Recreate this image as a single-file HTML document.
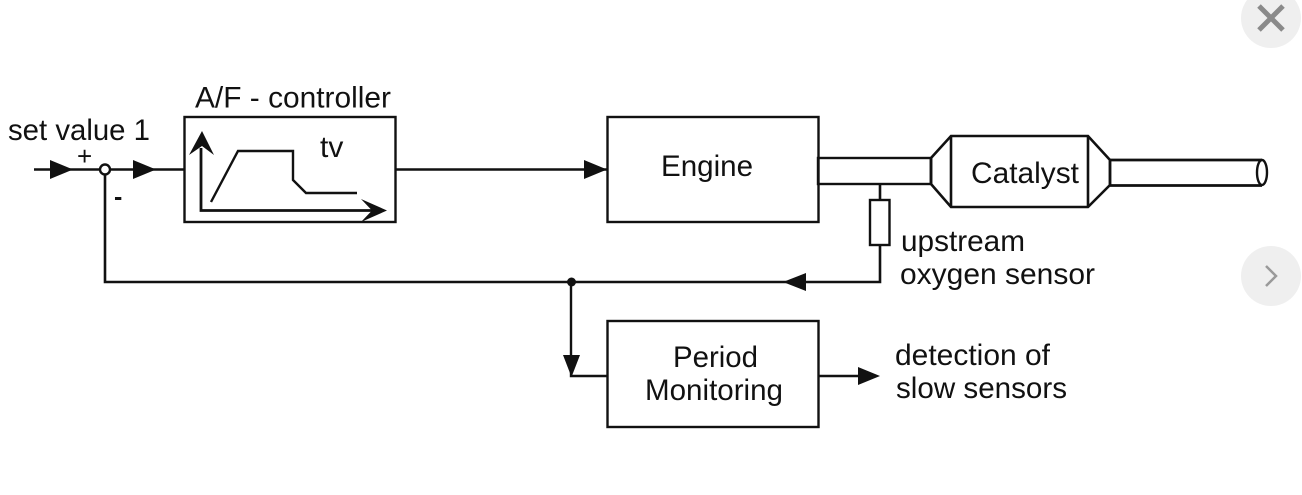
<!DOCTYPE html>
<html>
<head>
<meta charset="utf-8">
<style>
html,body{margin:0;padding:0;background:#fff;width:1302px;height:495px;overflow:hidden}
svg{display:block}
text{font-family:"Liberation Sans",sans-serif;font-size:29.5px;fill:#111}
</style>
</head>
<body>
<svg width="1302" height="495" viewBox="0 0 1302 495" xmlns="http://www.w3.org/2000/svg">
<rect width="1302" height="495" fill="#fff"/>
<circle cx="1271" cy="18" r="30" fill="#efefef"/>
<path d="M1259 6L1283 30M1283 6L1259 30" stroke="#8a8a8a" stroke-width="5" fill="none"/>
<circle cx="1271" cy="276" r="30" fill="#efefef"/>
<path d="M1266 266L1276 276L1266 286" stroke="#9a9a9a" stroke-width="2.5" fill="none"/>

<g fill="none" stroke="#111" stroke-width="2.4">
<rect x="184.5" y="117" width="211" height="105"/>
<rect x="607.5" y="117" width="211" height="105"/>
<rect x="607.5" y="321" width="211" height="106"/>
<path d="M34 169.500H100M111 169.500H184M396 169.500H607"/>
<circle cx="105" cy="169.500" r="5"/>
<path d="M105 175V282H880V245M880 184V200" stroke-width="2.600"/>
<rect x="870" y="200" width="19.500" height="45"/>
<path d="M571 282V376H607M819 376H860" />
<path d="M201 148V210.500H375" stroke-width="2.800"/>
<path d="M211 202L238 151H293V180L306 193H357"/>
<rect x="818" y="158" width="113" height="26"/>
<path d="M931 158L951 136H1088L1110 160V185L1088 207H951L931 184Z" stroke-width="2.600"/>
<path d="M931 158V184M951 136V207M1088 136V207M1110 160V185" stroke-width="2.600"/>
<path d="M1110 160H1262M1110 185.500H1262" stroke-width="2.800"/>
<ellipse cx="1262" cy="172.500" rx="5" ry="12.500"/>
</g>

<g fill="#111">
<path d="M50 160L73 169.500L50 179Z"/>
<path d="M133 160L156 169.500L133 179Z"/>
<path d="M584 160L607 169.500L584 179Z"/>
<path d="M783 282L806 273V291Z"/>
<path d="M563 355H580L571.500 377Z"/>
<path d="M858 367L880 376L858 385Z"/>
<circle cx="571.500" cy="282" r="4.500"/>
<path d="M202 131L214 155L202 146L189 155Z"/>
<path d="M387 210.500L361 199L372 210.500L361 222Z"/>
</g>

<text x="8" y="140" textLength="142" lengthAdjust="spacingAndGlyphs">set value 1</text>
<text x="195" y="107.500" textLength="196" lengthAdjust="spacingAndGlyphs">A/F - controller</text>
<text x="77" y="165" style="font-size:26px">+</text>
<text x="114" y="205" style="font-size:25px;font-weight:bold">-</text>
<text x="320" y="157" style="font-size:30px">tv</text>
<text x="661" y="176" textLength="92" lengthAdjust="spacingAndGlyphs">Engine</text>
<text x="971" y="183" textLength="108" lengthAdjust="spacingAndGlyphs">Catalyst</text>
<text x="901" y="251" textLength="124" lengthAdjust="spacingAndGlyphs">upstream</text>
<text x="900" y="284" textLength="195" lengthAdjust="spacingAndGlyphs">oxygen sensor</text>
<text x="673" y="367" textLength="85" lengthAdjust="spacingAndGlyphs">Period</text>
<text x="645" y="400" textLength="138" lengthAdjust="spacingAndGlyphs">Monitoring</text>
<text x="895" y="365" textLength="155" lengthAdjust="spacingAndGlyphs">detection of</text>
<text x="896" y="398" textLength="171" lengthAdjust="spacingAndGlyphs">slow sensors</text>
</svg>
</body>
</html>
